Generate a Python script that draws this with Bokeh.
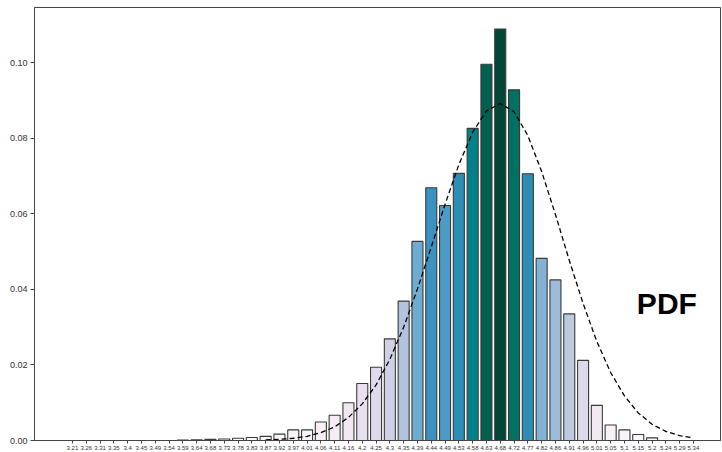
import numpy as np
from bokeh.plotting import figure
from bokeh.models import FixedTicker, Label, ColumnDataSource, Range1d, NumeralTickFormatter
from bokeh.embed import file_html
from bokeh.resources import INLINE

labels = ["3.21", "3.26", "3.31", "3.35", "3.4", "3.45", "3.49", "3.54", "3.59", "3.64",
          "3.68", "3.73", "3.78", "3.83", "3.87", "3.92", "3.97", "4.01", "4.06", "4.11",
          "4.16", "4.2", "4.25", "4.3", "4.35", "4.39", "4.44", "4.49", "4.53", "4.58",
          "4.63", "4.68", "4.72", "4.77", "4.82", "4.86", "4.91", "4.96", "5.01", "5.05",
          "5.1", "5.15", "5.2", "5.24", "5.29", "5.34"]

density = [0, 0, 0, 0, 0, 0, 0, 0, 0.0001, 0.0002,
           0.0003, 0.0004, 0.0006, 0.0008, 0.0011, 0.0017, 0.0028, 0.0028, 0.0049, 0.0067,
           0.0100, 0.0151, 0.0194, 0.0269, 0.0369, 0.0527, 0.0669, 0.0622, 0.0707, 0.0826,
           0.0996, 0.1089, 0.0928, 0.0706, 0.0482, 0.0425, 0.0335, 0.0212, 0.0093, 0.0041,
           0.0028, 0.0016, 0.0007, 0, 0, 0]

pdf_start = 14
pdf_values = [0.00015, 0.0003, 0.0006, 0.0011, 0.0021, 0.0036, 0.0061, 0.0097, 0.0147, 0.0215,
              0.0300, 0.0401, 0.0512, 0.0625, 0.0730, 0.0816, 0.0872, 0.0892, 0.0870, 0.0807,
              0.0712, 0.0598, 0.0477, 0.0363, 0.0262, 0.0180, 0.0118, 0.0073, 0.0043, 0.0024,
              0.0013, 0.0007]

y_ticks = [0.0, 0.02, 0.04, 0.06, 0.08, 0.10]

# PuBuGn colormap (light -> dark)
pubugn = ["#fff7fb", "#ece2f0", "#d0d1e6", "#a6bddb", "#67a9cf", "#3690c0", "#02818a", "#016c59", "#014636"]
stops = np.array([[int(c[i:i + 2], 16) for i in (1, 3, 5)] for c in pubugn], dtype=float)
pos = np.linspace(0, 1, len(pubugn))


def cmap(t):
    rgb = [np.interp(t, pos, stops[:, k]) for k in range(3)]
    return "#%02x%02x%02x" % tuple(int(round(v)) for v in rgb)


vals = np.array(density)
colors = [cmap(v / vals.max()) for v in vals]
xs = list(range(len(labels)))

src = ColumnDataSource(dict(x=xs, top=density, color=colors))

p = figure(width=722, height=452, output_backend="svg", toolbar_location=None,
           x_range=Range1d(-2.75, 46.96), y_range=Range1d(0, 0.1146),
           min_border_top=7, min_border_right=2, min_border_left=34, min_border_bottom=0)

p.vbar(x="x", top="top", width=0.8, bottom=0, source=src, fill_color="color",
       line_color="#3a3a3a", line_width=1.1)

pdf_x = list(range(pdf_start, pdf_start + len(pdf_values)))
p.line(pdf_x, pdf_values, line_color="black", line_width=1.3, line_dash="5 3")

p.xgrid.grid_line_color = None
p.ygrid.grid_line_color = None
p.outline_line_color = "#444444"
p.outline_line_width = 1

p.xaxis.ticker = FixedTicker(ticks=xs)
p.xaxis.major_label_overrides = {i: l for i, l in enumerate(labels)}
p.xaxis.major_label_text_font_size = "6px"
p.xaxis.major_label_text_font = "Liberation Sans"
p.xaxis.major_label_text_color = "#333333"
p.xaxis.major_label_standoff = 2
p.xaxis.minor_tick_line_color = None
p.xaxis.major_tick_out = 3
p.xaxis.major_tick_in = 0

p.yaxis.ticker = FixedTicker(ticks=y_ticks)
p.yaxis.formatter = NumeralTickFormatter(format="0.00")
p.yaxis.major_label_text_font_size = "9px"
p.yaxis.major_label_text_font = "Liberation Sans"
p.yaxis.major_label_text_color = "#333333"
p.yaxis.major_label_standoff = 3
p.yaxis.minor_tick_line_color = None
p.yaxis.major_tick_out = 4
p.yaxis.major_tick_in = 0

for ax in (p.xaxis, p.yaxis):
    ax.axis_line_color = "#444444"
    ax.major_tick_line_color = "#444444"

p.add_layout(Label(x=40.9, y=0.0363, text="PDF", text_font="Liberation Sans",
                   text_font_size="30px", text_font_style="bold", text_color="black",
                   text_baseline="alphabetic", text_align="left"))

open("out.html", "w").write(file_html(p, INLINE))
